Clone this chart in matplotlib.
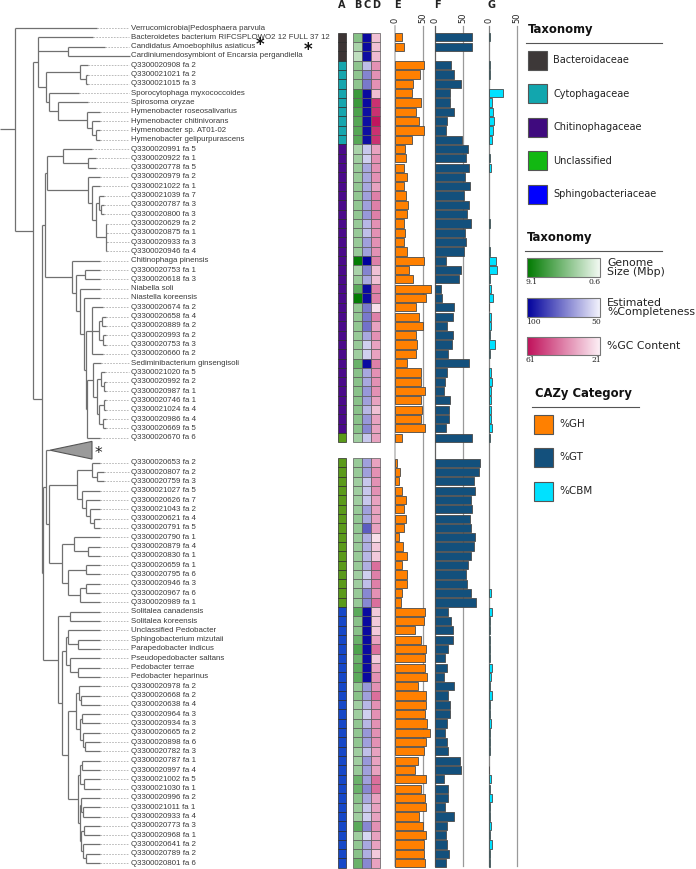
import numpy as np
import matplotlib
matplotlib.use("Agg")
import matplotlib.pyplot as plt
from matplotlib.colors import LinearSegmentedColormap, Normalize
from matplotlib.patches import Rectangle

nan = np.nan

# ---- data -------------------------------------------------------------
labels = [
    "Verrucomicrobia|Pedosphaera parvula",
    "Bacteroidetes bacterium RIFCSPLOWO2 12 FULL 37 12",
    "Candidatus Amoebophilus asiaticus",
    "Cardiniumendosymbiont of Encarsia pergandiella",
    "Q3300020908 fa 2", "Q3300021021 fa 2", "Q3300021015 fa 3",
    "Sporocytophaga myxococcoides", "Spirosoma oryzae",
    "Hymenobacter roseosalivarius", "Hymenobacter chitinivorans",
    "Hymenobacter sp. AT01-02", "Hymenobacter gelipurpurascens",
    "Q3300020991 fa 5", "Q3300020922 fa 1", "Q3300020778 fa 5",
    "Q3300020979 fa 2", "Q3300021022 fa 1", "Q3300021039 fa 7",
    "Q3300020787 fa 3", "Q3300020800 fa 3", "Q3300020629 fa 2",
    "Q3300020875 fa 1", "Q3300020933 fa 3", "Q3300020946 fa 4",
    "Chitinophaga pinensis", "Q3300020753 fa 1", "Q3300020618 fa 3",
    "Niabella soli", "Niastella koreensis", "Q3300020674 fa 2",
    "Q3300020658 fa 4", "Q3300020889 fa 2", "Q3300020993 fa 2",
    "Q3300020753 fa 3", "Q3300020660 fa 2", "Sediminibacterium ginsengisoli",
    "Q3300021020 fa 5", "Q3300020992 fa 2", "Q3300020987 fa 1",
    "Q3300020746 fa 1", "Q3300021024 fa 4", "Q3300020986 fa 4",
    "Q3300020669 fa 5", "Q3300020670 fa 6",
    "Q3300020653 fa 2", "Q3300020807 fa 2", "Q3300020759 fa 3",
    "Q3300021027 fa 5", "Q3300020626 fa 7", "Q3300021043 fa 2",
    "Q3300020621 fa 4", "Q3300020791 fa 5", "Q3300020790 fa 1",
    "Q3300020879 fa 4", "Q3300020830 fa 1", "Q3300020659 fa 1",
    "Q3300020795 fa 6", "Q3300020946 fa 3", "Q3300020967 fa 6",
    "Q3300020989 fa 1",
    "Solitalea canadensis", "Solitalea koreensis", "Unclassified Pedobacter",
    "Sphingobacterium mizutaii", "Parapedobacter indicus",
    "Pseudopedobacter saltans", "Pedobacter terrae", "Pedobacter heparinus",
    "Q3300020978 fa 2", "Q3300020668 fa 2", "Q3300020638 fa 4",
    "Q3300020964 fa 3", "Q3300020934 fa 3", "Q3300020665 fa 2",
    "Q3300020898 fa 6", "Q3300020782 fa 3", "Q3300020787 fa 1",
    "Q3300020997 fa 4", "Q3300021002 fa 5", "Q3300021030 fa 1",
    "Q3300020996 fa 2", "Q3300021011 fa 1", "Q3300020933 fa 4",
    "Q3300020773 fa 3", "Q3300020968 fa 1", "Q3300020641 fa 2",
    "Q3300020789 fa 2", "Q3300020801 fa 6",
]

families = ["Bacteroidaceae", "Cytophagaceae", "Chitinophagaceae",
            "Unclassified", "Sphingobacteriaceae"]
taxonomy = ([None] + ["Bacteroidaceae"] * 3 + ["Cytophagaceae"] * 9
            + ["Chitinophagaceae"] * 31 + ["Unclassified"] * 17
            + ["Sphingobacteriaceae"] * 28)

genome_size = [nan, 4.4, 3.2, 2.4, 4.1, 4.1, 4.1, 7.0, 7.0, 6.4, 6.1, 6.1, 6.1,
               3.2, 3.5, 3.8, 3.8, 4.0, 4.0, 4.0, 4.0, 3.8, 3.8, 3.8, 3.8,
               9.0, 3.2, 3.8, 5.9, 9.0, 4.0, 4.0, 4.0, 3.8, 3.8, 3.5, 5.4,
               4.3, 4.3, 4.3, 4.3, 4.3, 4.3, 4.3, 3.5,
               3.8, 3.8, 3.5, 3.5, 3.5, 3.8, 4.0, 4.0, 3.8, 3.8, 3.8, 3.8, 3.5, 3.5, 3.8, 3.8,
               5.9, 4.3, 4.3, 5.4, 6.4, 5.4, 5.9, 5.9,
               4.0, 4.3, 3.5, 3.5, 4.0, 4.0, 4.0, 3.5, 3.5, 3.8, 5.4, 5.4, 4.3, 3.8, 3.5,
               5.9, 3.5, 4.0, 4.3, 5.4]

completeness = [nan, 98, 98, 97, 61, 73, 75, 98, 98, 97, 97, 97, 97,
                59, 57.6, 65.5, 65.5, 65.5, 67, 67, 68.6, 62.4, 60.8, 67, 67,
                100, 73, 65.5, 98, 98, 75, 75, 76.5, 65.5, 57.6, 57.6, 98,
                65.5, 65.5, 68.6, 67, 62.4, 68.6, 72, 59,
                67, 67, 59, 59, 59, 67, 65.5, 81, 64, 64, 62.4, 64, 57.6, 60.8, 72, 72,
                98, 98, 98, 98, 98, 98, 98, 98,
                68.6, 67, 62.4, 57.6, 62.4, 68.6, 67, 60.8, 68.6, 67, 67, 72, 65.5, 59,
                57.6, 72, 56, 65.5, 64, 72]

gc_content = [nan, 29.6, 29.6, 30.5, 38, 38, 38, 30, 55, 55, 60, 55, 55,
              35, 38, 38, 38, 35, 41, 41, 41, 38, 38, 38, 38,
              41, 29.6, 29.6, 41, 41, 24, 41, 35, 38, 35, 35, 41,
              38, 38, 38, 35, 29.6, 35, 35, 35,
              35, 38, 38, 38, 35, 35, 35, 35, 24, 28, 28, 44, 41, 41, 38, 44,
              28, 28, 28, 35, 44, 28, 35, 38,
              38, 44, 38, 38, 38, 38, 38, 35, 35, 35, 44, 44, 35, 35, 35, 38, 35, 35, 28, 35]

pct_gh = [nan, 12, 16.5, 0, 52, 46, 33.5, 31, 47, 38, 44.5, 52, 30,
          18, 19.5, 16, 22, 16, 20, 24, 22.5, 16, 18, 17, 21,
          52, 26, 33.5, 65, 57, 39, 43, 50, 39, 40, 38, 21,
          47, 48, 55, 48, 49.5, 47, 54, 13,
          4, 9, 8, 12, 20, 17, 19.5, 16.5, 6.5, 14.5, 21, 13, 22.5, 22.5, 13.5, 11.5,
          55, 52, 36, 48, 56.5, 54, 55, 59,
          42, 55.5, 55.5, 54, 58.5, 63, 57, 53, 41, 37, 55.5, 47, 55, 56, 44, 50, 56,
          53, 52, 54]

pct_gt = [nan, 67, 67, 0, 29, 35, 47.5, 28, 28, 34, 22, 20.5, 49.5,
          60, 57, 61.5, 55, 63, 52, 61.5, 58, 66, 54, 56, 52.5,
          20.5, 47.5, 44, 11, 12.5, 34, 32.5, 22, 33, 31, 24, 61.5,
          22, 19, 17, 27, 25, 25, 20.5, 68,
          81, 80, 71, 72, 66, 68, 64.5, 66, 73, 70.5, 65.5, 60, 57, 58, 65.5, 74.5,
          23.5, 29, 32.5, 32.5, 23.5, 19, 22, 16.5,
          35, 23.5, 27, 27, 22.5, 19, 22.5, 23, 45, 47.5, 17, 24, 24, 17.5, 34, 22.5,
          20.5, 22.5, 25, 20]

pct_cbm = [nan, 2, 0, 0, 2.5, 1, 0, 26, 5.5, 7, 9, 7.5, 5.5,
           0, 2.5, 3, 0, 0, 0, 0, 0, 1, 0, 0, 1,
           12, 14.5, 1, 3, 7.5, 0.5, 3, 3.5, 1, 10, 2, 0,
           3.5, 5.5, 4, 3, 3.5, 3.5, 5, 1,
           0, 0, 0, 0, 0, 0, 0, 0, 0, 0, 0, 0, 0, 0, 3, 0,
           5.5, 1, 1, 1, 1, 2.5, 5, 3.5,
           1, 5, 2.5, 2.5, 3.5, 2.5, 1, 1, 0, 0.5, 3.5, 2.5, 5, 1, 2.5, 3.5, 1, 5,
           2.5, 2]

# tree topology: internal node = [x, child, ...], leaf = (row, branch end x),
# "TRI" = collapsed clade drawn as a triangle
tree = [15,
    (0, 97),
    [33,
        [38,
            (1, 93),
            [68, (2, 105), (3, 130)],
            [46,
                [80, (4, 88), [86, (5, 88), (6, 88)]],
                [49, (7, 79),
                    [58, (8, 88),
                        [87, (9, 100), [92, (10, 100), [96, (11, 100), (12, 100)]]]]]]],
        [42,
            [45,
                [47,
                    [63, (13, 92), [88, (14, 96), (15, 96)]],
                    [88, (16, 100),
                        [92, (17, 100),
                            [96, [99, (18, 104), [101, (19, 104), (20, 104)]],
                                 [106, (21, 107), (22, 107), (23, 107), (24, 107)]]]]],
                [72, (25, 100),
                    [76, [85, (26, 100), (27, 100)],
                        [80, (28, 100),
                            [84, (29, 100),
                                [86,
                                    [92, (30, 103),
                                        [99, [102, (31, 106), (32, 106)],
                                             [103, (33, 106), (34, 106)]],
                                        (35, 103)],
                                    [87,
                                        [93, (36, 101),
                                            [97, [101, (37, 105), [104, (38, 106), (39, 106)]],
                                                 [99, [104, (40, 106), (41, 106)],
                                                      [103, (42, 106), (43, 106)]]]],
                                        (44, 100)]]]]]]],
            [43,
                [46, "TRI",
                    [49,
                        [77, [92, (45, 100), [97, (46, 104), (47, 104)]],
                             [82, (48, 100), [86, (49, 100),
                                 [90, (50, 100), [94, (51, 100), (52, 100)]]]]],
                        [62, [74, (53, 100), [88, (54, 100), (55, 100)]],
                             [68, [86, (56, 100), (57, 100)],
                                  [80, [86, (58, 100), (59, 100)], (60, 100)]]]]],
                [58, [70, (61, 100), (62, 100)],
                    [62,
                        [66, [68, (63, 100), [78, (64, 100), (65, 100)]],
                             [70, (66, 100), [78, (67, 100), (68, 100)]]],
                        [68,
                            [76, [79, (69, 100), [81, (70, 100), (71, 100)]],
                                 [80, [82, (72, 100), (73, 100)],
                                      [83, (74, 100), [85, (75, 100), (76, 100)]]]],
                            [78, [80, [82, (77, 100), (78, 100)], [84, (79, 100), (80, 100)]],
                                 [80, [81, (81, 100), [83, (82, 100), (83, 100)]],
                                      [81, [84, (84, 100), (85, 100)],
                                           [83, (86, 100), [86, (87, 100), (88, 100)]]]]]]]]]]]]

# ---- layout -----------------------------------------------------------
W, H = 696, 869
Y0, PITCH = 28.0, 9.31          # pixel centre of first row, row pitch
ypos = np.array([i if i < 45 else i + 1.7 for i in range(len(labels))])
TRI_Y = 45.35
v_top_full = -Y0 / PITCH
v_bot = (H - Y0) / PITCH
TOP_PX = 26
v_top_bars = (TOP_PX - Y0) / PITCH

fig = plt.figure(figsize=(W / 100, H / 100), dpi=100)

def frac_x(px):
    return px / W

LABEL_FONT = dict(family=["Liberation Sans Narrow", "Liberation Sans", "DejaVu Sans"],
                  size=5.7, color="#3a3a3a")
TREE_C = "#707070"

# ---- tree -------------------------------------------------------------
axt = fig.add_axes([0, 0, frac_x(338), 1])
axt.set_xlim(0, 338)
axt.set_ylim(v_bot, v_top_full)
axt.axis("off")

hsegs, vsegs, dots = [], [], []

def draw(node, parent_x):
    if node == "TRI":
        hsegs.append((TRI_Y, parent_x, 50))
        axt.fill([50, 92, 92], [TRI_Y, TRI_Y - 0.95, TRI_Y + 0.95],
                 facecolor="#9a9a9a", edgecolor="#555555", lw=0.8)
        return TRI_Y
    if isinstance(node, tuple):
        row, xe = node
        y = ypos[row]
        hsegs.append((y, parent_x, xe))
        if xe < 129:
            dots.append((y, xe, 129))
        return y
    x = node[0]
    ys = [draw(c, x) for c in node[1:]]
    vsegs.append((x, min(ys), max(ys)))
    y = (ys[0] + ys[-1]) / 2
    hsegs.append((y, parent_x, x))
    return y

draw(tree, 0)
h = np.array(hsegs)
v = np.array(vsegs)
d = np.array(dots)
axt.hlines(d[:, 0], d[:, 1], d[:, 2], colors="#b0b0b0", lw=0.6, linestyles=(0, (2, 1.5)))
axt.hlines(h[:, 0], h[:, 1], h[:, 2], colors=TREE_C, lw=0.9)
axt.vlines(v[:, 0], v[:, 1], v[:, 2], colors=TREE_C, lw=0.9)

for i, name in enumerate(labels):
    t = axt.text(131, ypos[i], name, va="center", ha="left", clip_on=False, **LABEL_FONT)
    if i in (2, 3):
        axt.annotate("*", xy=(1, 0.5), xycoords=t, xytext=(0.5, 1 if i == 2 else 4),
                     textcoords="offset points", va="center", ha="left",
                     fontsize=12, fontweight="bold", color="#111111")
axt.text(95, TRI_Y + 0.35, "*", va="center", ha="left", fontsize=11, color="#222222")

# ---- heatmap columns A-D ---------------------------------------------
tax_cell = {"Bacteroidaceae": "#3d3535", "Cytophagaceae": "#16a6ae",
            "Chitinophagaceae": "#4a0a8a", "Unclassified": "#5a9a1a",
            "Sphingobacteriaceae": "#1648c8"}
tax_legend = ["#3d3838", "#12a6ae", "#3f0a7e", "#12b812", "#0000ff"]

cm_green = LinearSegmentedColormap.from_list("gsize", ["#f3faf3", "#007a00"])
cm_blue = LinearSegmentedColormap.from_list("compl", ["#f3f3fd", "#00009c"])
cm_pink = LinearSegmentedColormap.from_list("gc", ["#fdf0f6", "#c0105a"])
n_green = Normalize(0.6, 9.1)
n_blue = Normalize(50, 100)
n_pink = Normalize(21, 61)

axh = fig.add_axes([frac_x(338), 0, frac_x(43), 1])
axh.set_xlim(0, 4.8)
axh.set_ylim(v_bot, v_top_full)
axh.axis("off")

rows = np.arange(1, len(labels))
yr = ypos[rows]
axh.barh(yr, 0.92, left=0, height=1.0,
         color=[tax_cell[taxonomy[r]] for r in rows], edgecolor="#2a2a2a", lw=0.5)
for left, vals, cm, nm in [(1.7, genome_size, cm_green, n_green),
                           (2.7, completeness, cm_blue, n_blue),
                           (3.7, gc_content, cm_pink, n_pink)]:
    vv = np.array(vals)[rows]
    axh.barh(yr, 1.0, left=left, height=1.0, color=cm(nm(vv)),
             edgecolor="#5a5a5a", lw=0.5)

# ---- bar panels E-G ---------------------------------------------------
SCALE = 0.55   # px per percent
panels = [("E", 395, 72, pct_gh, "#ff8000", "#bdbdbd"),
          ("F", 435, 88, pct_gt, "#13507c", "#606060"),
          ("G", 489, 50, pct_cbm, "#00e1ff", "#808080")]
for letter, left_px, xmax, vals, col, zero_c in panels:
    ax = fig.add_axes([frac_x(left_px), 0, frac_x(xmax * SCALE), (H - TOP_PX) / H])
    ax.set_xlim(0, xmax)
    ax.set_ylim(v_bot, v_top_bars)
    for s in ax.spines.values():
        s.set_visible(False)
    ax.set_yticks([])
    ax.xaxis.tick_top()
    ax.set_xticks([0, 50])
    ax.tick_params(axis="x", length=0, pad=2, labelsize=6, labelrotation=90,
                   labelcolor="#222222")
    ax.axvline(0, ymin=0.004, ymax=1, color=zero_c, lw=1.2 if letter == "E" else 0.9,
               clip_on=False, zorder=0)
    ax.axvline(50, ymin=0.004, ymax=1, color="#9a9a9a", lw=0.9, clip_on=False, zorder=0)
    vv = np.array(vals)[rows]
    keep = vv > 0
    ax.barh(yr[keep], vv[keep], height=0.88, color=col, edgecolor="#4a4a4a", lw=0.6,
            zorder=2)
    fig.text(frac_x(left_px + 2), 1 - 5.5 / H, letter, ha="center", va="center",
             fontsize=7, fontweight="bold", color="#222222")

for letter, xc in [("A", 342), ("B", 358), ("C", 367), ("D", 376)]:
    fig.text(frac_x(xc), 1 - 5.5 / H, letter, ha="center", va="center",
             fontsize=7, fontweight="bold", color="#222222")

# ---- legends ----------------------------------------------------------
axl = fig.add_axes([frac_x(520), 0, frac_x(176), 1])
axl.set_xlim(520, 696)
axl.set_ylim(H, 0)
axl.axis("off")

axl.text(528, 30, "Taxonomy", fontsize=8.4, fontweight="bold", va="center", color="#111111")
axl.plot([526, 662], [43, 43], color="#555555", lw=0.8)
for i, (fam, c) in enumerate(zip(families, tax_legend)):
    yc = 60 + i * 33.6
    axl.add_patch(Rectangle((528, yc - 9.5), 19, 19, facecolor=c, edgecolor="#555555", lw=0.8))
    axl.text(553, yc, fam, fontsize=7, va="center", color="#222222")

axl.text(527, 237, "Taxonomy", fontsize=8.4, fontweight="bold", va="center", color="#111111")
axl.plot([525, 662], [251, 251], color="#555555", lw=0.8)
grad = np.linspace(1, 0, 256)[None, :]
for (y_top, y_bot, cm, lo, hi, text) in [
        (258, 277, cm_green, "9.1", "0.6", "Genome\nSize (Mbp)"),
        (298, 317, cm_blue, "100", "50", "Estimated\n%Completeness"),
        (337, 355, cm_pink, "61", "21", "%GC Content")]:
    axl.imshow(grad, cmap=cm, extent=(527, 600, y_bot, y_top), aspect="auto",
               interpolation="bilinear")
    axl.add_patch(Rectangle((527, y_top), 73, y_bot - y_top, fill=False,
                            edgecolor="#777777", lw=0.8))
    axl.text(526, y_bot + 1, lo, fontsize=5.5, family="DejaVu Serif", va="top",
             ha="left", color="#222222")
    axl.text(601, y_bot + 1, hi, fontsize=5.5, family="DejaVu Serif", va="top",
             ha="right", color="#222222")
    axl.text(607, (y_top + y_bot) / 2, text, fontsize=7.8, va="center", ha="left",
             linespacing=0.95, color="#222222")
axl.set_xlim(520, 696)
axl.set_ylim(H, 0)

axl.text(535, 393, "CAZy Category", fontsize=8.4, fontweight="bold", va="center",
         color="#111111")
axl.plot([532, 639], [407, 407], color="#555555", lw=0.8)
for i, (name, c) in enumerate([("%GH", "#ff8000"), ("%GT", "#13507c"), ("%CBM", "#00e1ff")]):
    yc = 424 + i * 33.5
    axl.add_patch(Rectangle((534, yc - 9.5), 19, 19, facecolor=c, edgecolor="#555555", lw=0.8))
    axl.text(559, yc, name, fontsize=7.5, va="center", color="#222222")

fig.savefig("out.png", dpi=100)
